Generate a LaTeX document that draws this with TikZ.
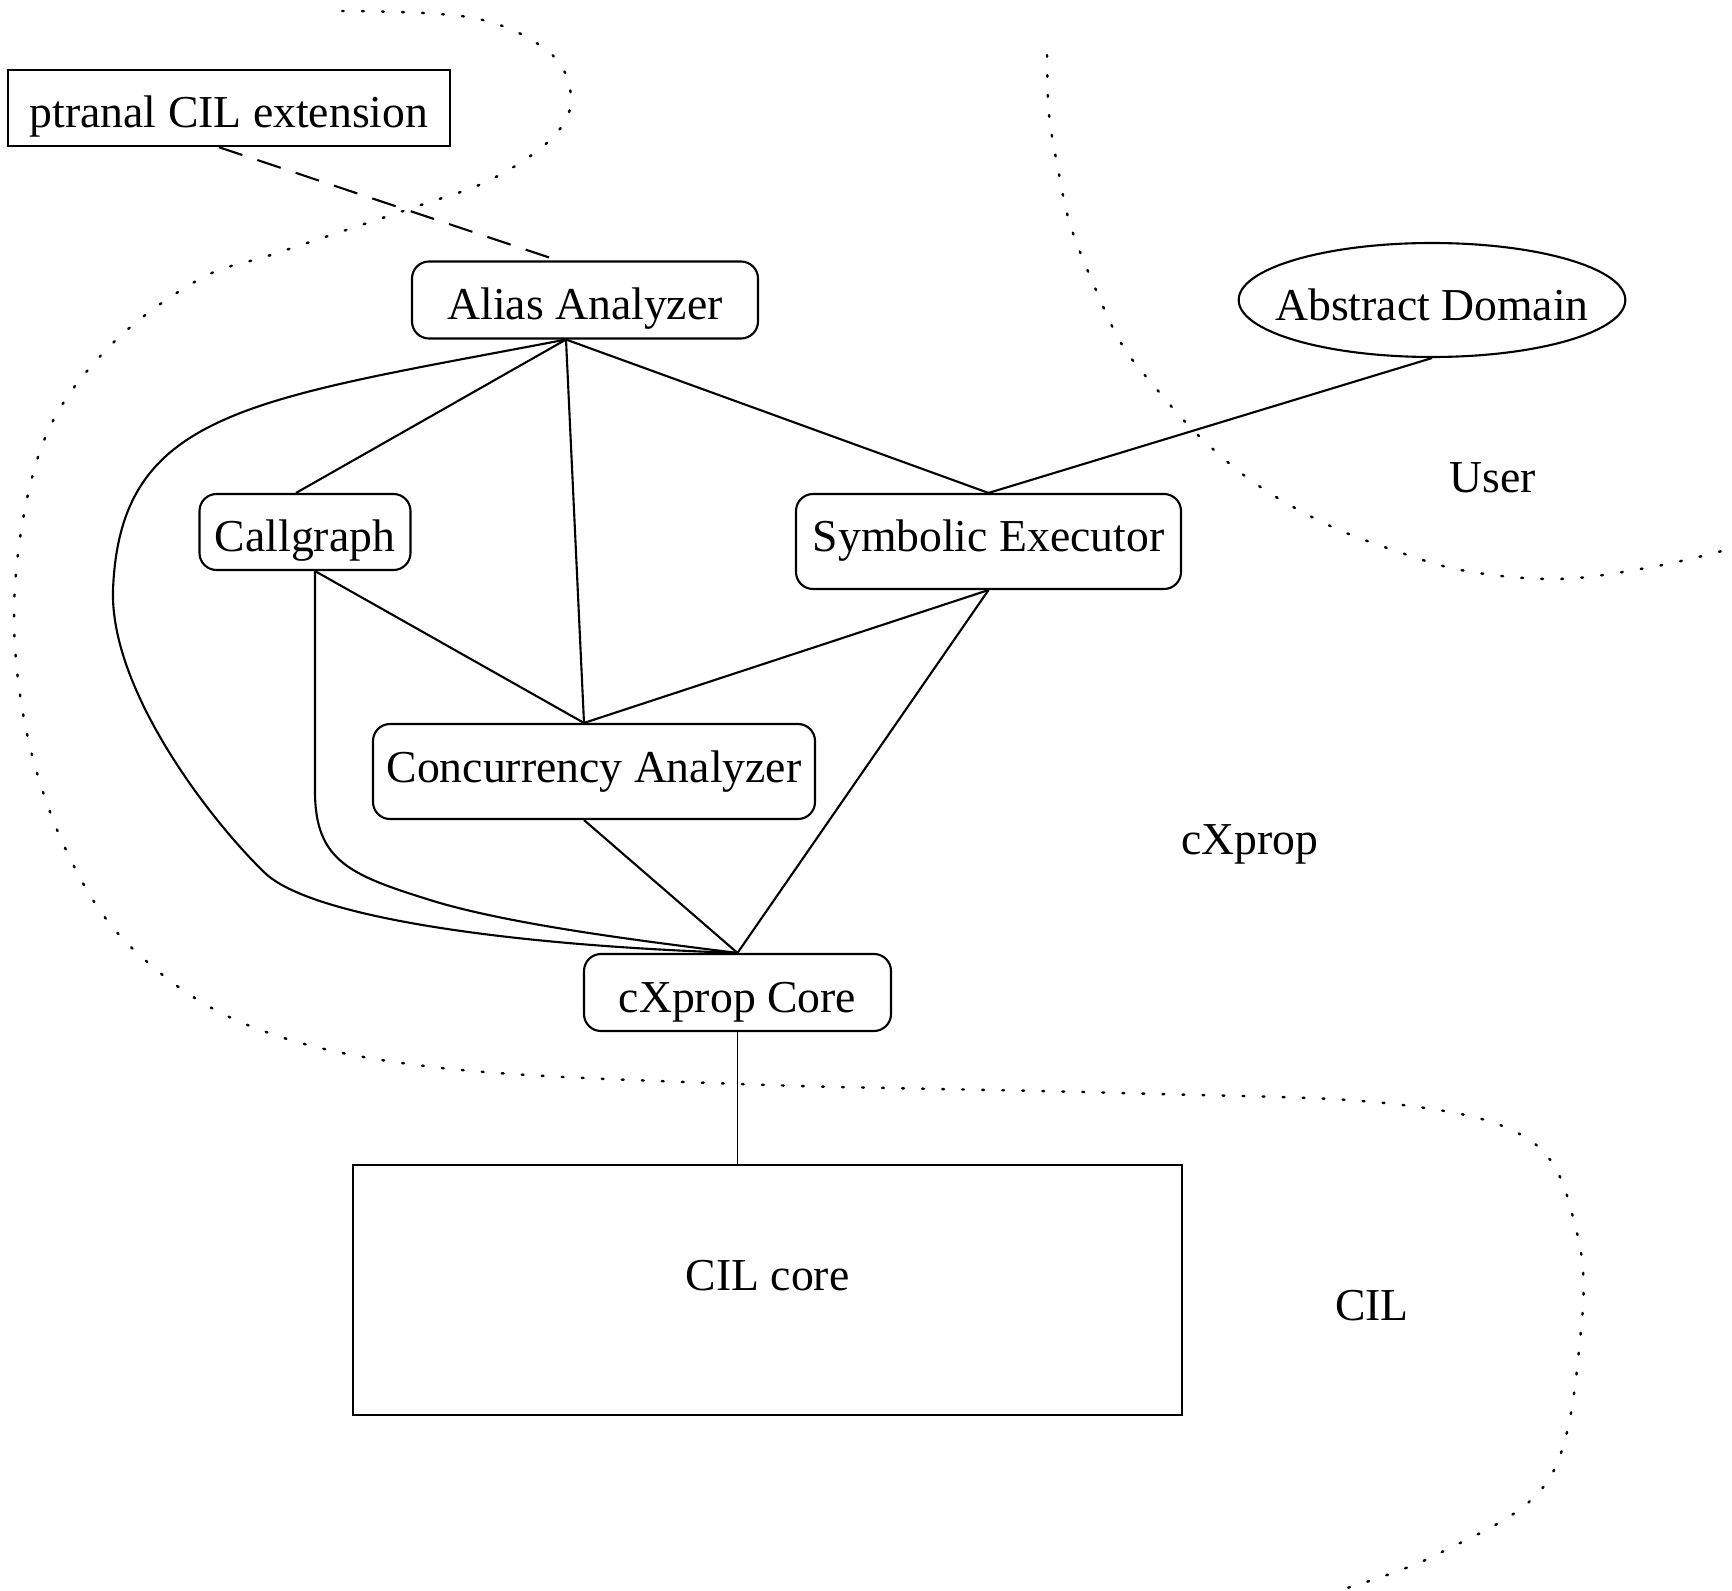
\documentclass[tikz,border=0pt]{standalone}
\usepackage{fontspec}
\setmainfont{Liberation Serif}
\usepackage{tikz}
\usetikzlibrary{shapes.geometric}
\tikzset{module/.style = {draw,rounded corners=0.17cm,inner sep=0pt,line width=0.6pt,text depth=0pt,text height=#1,font=\fontsize{13}{15}\selectfont},
         module/.default = 0.4cm,
         plainbox/.style = {draw,inner sep=0pt,line width=0.7pt,font=\fontsize{13}{15}\selectfont},
         area/.style = {font=\fontsize{13}{15}\selectfont},
         link/.style = {line width=0.6pt},
         border/.style = {line width=0.7pt,dash pattern=on 0.5pt off 5.2pt,line cap=round}}

\begin{document}
\begin{tikzpicture}
    \useasboundingbox (0,0) rectangle (17.32,-15.91);

    \node [plainbox,text depth=0pt,text height=0.4cm,minimum width=4.42cm,minimum height=0.76cm] (ptranal) at (2.29,-1.08) {ptranal CIL extension};
    \node [module,minimum width=3.46cm,minimum height=0.77cm] (alias) at (5.85,-3.00) {Alias Analyzer};
    \node [ellipse,draw,inner xsep=-0.2cm,inner ysep=0pt,line width=0.6pt,font=\fontsize{13}{15}\selectfont,text depth=0pt,text height=0.42cm,
           minimum width=3.84cm,minimum height=1.14cm] (absdom) at (14.32,-3.00) {Abstract Domain};
    \node [module,minimum width=2.11cm,minimum height=0.76cm] (callgraph) at (3.05,-5.32) {Callgraph};
    \node [module=0.21cm,minimum width=3.85cm,minimum height=0.95cm] (symexec) at (9.885,-5.415) {Symbolic Executor};
    \node [module=0.21cm,minimum width=4.42cm,minimum height=0.95cm] (concur) at (5.94,-7.715) {Concurrency Analyzer};
    \node [module,minimum width=3.07cm,minimum height=0.77cm] (core) at (7.375,-9.925) {cXprop Core};
    \node [plainbox,minimum width=8.29cm,minimum height=2.50cm,text depth=0.3cm] (cil) at (7.675,-12.90) {CIL core};

    \node [area] (user) at (14.93,-4.78) {User};
    \node [area] (cxprop) at (12.50,-8.44) {cXprop};
    \node [area] (cilarea) at (13.72,-13.06) {CIL};

    \coordinate (aliasS) at ([xshift=-0.19cm]alias.south);
    \coordinate (callN) at ([xshift=-0.09cm]callgraph.north);
    \coordinate (callS) at ([xshift=0.10cm]callgraph.south);
    \coordinate (concN) at ([xshift=-0.10cm]concur.north);
    \coordinate (concS) at ([xshift=-0.10cm]concur.south);

    \draw [link,dash pattern=on 7pt off 4.5pt] ([xshift=-0.10cm]ptranal.south) -- ([xshift=-0.27cm]alias.north);
    \draw [link] (aliasS) -- (callN);
    \draw [link] (aliasS) -- (concN);
    \draw [link] (aliasS) -- (symexec.north);
    \draw [link] (absdom.south) -- (symexec.north);
    \draw [link] (callS) -- (concN);
    \draw [link] (symexec.south) -- (concN);
    \draw [link] (symexec.south) -- (core.north);
    \draw [link] (concS) -- (core.north);
    \draw [link] (aliasS) .. controls (2.5,-4.0) and (1.2,-4.1) .. (1.13,-5.9)
                          .. controls (1.1,-6.9) and (2.1,-8.2) .. (2.65,-8.73)
                          .. controls (3.1,-9.16) and (5.0,-9.45) .. (core.north);
    \draw [link] (callS) -- ++(0,-2.2) .. controls +(0,-0.7) and (3.5,-8.75) .. (4.3,-9.0)
                         .. controls (5.1,-9.25) and (6.5,-9.42) .. (core.north);
    \draw [line width=0.45pt] (core.south) -- (core.south |- cil.north);

    \draw [border] plot [smooth,tension=0.6] coordinates {(3.42,-0.11) (4.74,-0.18) (5.50,-0.53) (5.71,-1.00) (5.50,-1.40)
        (4.90,-1.80) (4.15,-2.07) (2.77,-2.53) (1.98,-2.80) (1.07,-3.49) (0.43,-4.43) (0.15,-5.86) (0.25,-7.24)
        (0.67,-8.52) (1.33,-9.49) (2.50,-10.26) (4.33,-10.67) (7.38,-10.84) (11.20,-10.93) (13.94,-11.04)
        (15.31,-11.41) (15.76,-12.29) (15.81,-13.30) (15.49,-14.79) (14.40,-15.53) (13.37,-15.91)};
    \draw [border] plot [smooth,tension=0.6] coordinates {(10.47,-0.55) (10.49,-1.14) (10.58,-1.69) (10.70,-2.24)
        (10.93,-2.83) (11.21,-3.43) (11.54,-3.86) (12.00,-4.37) (12.56,-4.84) (13.26,-5.24) (13.96,-5.51)
        (14.66,-5.71) (15.59,-5.79) (16.52,-5.67) (17.22,-5.51)};
\end{tikzpicture}
\end{document}
